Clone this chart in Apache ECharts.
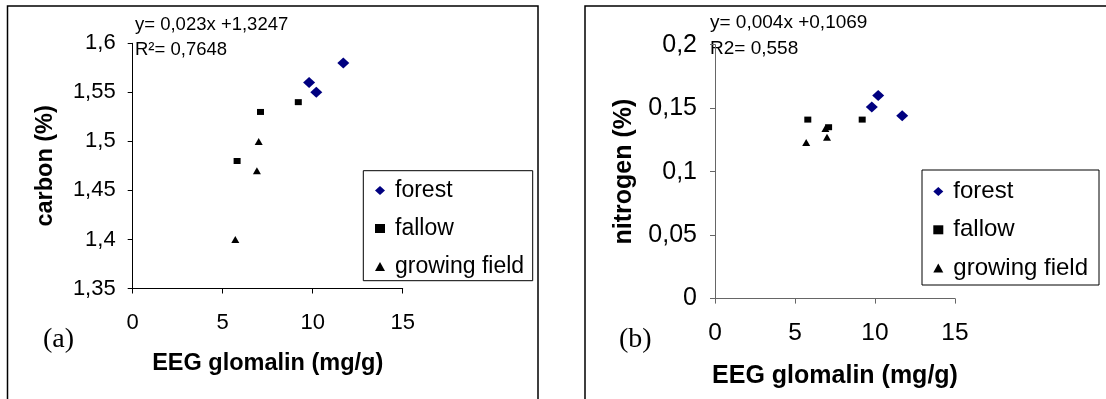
<!DOCTYPE html>
<html>
<head>
<meta charset="utf-8">
<script src="https://cdn.jsdelivr.net/npm/echarts@6/dist/echarts.min.js"></script>
<style>
html,body{margin:0;padding:0;background:#fff;}
#c{width:1106px;height:399px;}
</style>
</head>
<body>
<div id="c"></div>
<script>
// ---- data ----
const seriesNames = ['forest', 'fallow', 'growing field'];
const forestGlomalin = [9.8, 10.2, 11.7];
const forestCarbon = [1.56, 1.55, 1.58];
const forestNitrogen = [0.151, 0.160, 0.144];
const fallowGlomalin = [5.8, 7.1, 9.2];
const fallowCarbon = [1.48, 1.53, 1.54];
const fallowNitrogen = [0.141, 0.135, 0.141];
const fieldGlomalin = [5.7, 6.9, 7.0];
const fieldCarbon = [1.40, 1.47, 1.50];
const fieldNitrogen = [0.123, 0.134, 0.127];
const xTicks = [0, 5, 10, 15];
const carbonTicks = [1.35, 1.4, 1.45, 1.5, 1.55, 1.6];
const nitrogenTicks = [0, 0.05, 0.1, 0.15, 0.2];
const carbonEquation = 'y= 0,023x +1,3247';
const carbonR2 = 'R\u00B2= 0,7648';
const nitrogenEquation = 'y= 0,004x +0,1069';
const nitrogenR2 = 'R2= 0,558';
const xTitle = 'EEG glomalin (mg/g)';
const carbonTitle = 'carbon (%)';
const nitrogenTitle = 'nitrogen (%)';

const pairs = (xs, ys) => xs.map((x, i) => [x, ys[i]]);
const comma = v => String(Math.round(v * 1000) / 1000).replace('.', ',');
const FONT = '"Liberation Sans", Arial, sans-serif';

function xAxisCfg(gi, color, fs, titleFs, gap, margin) {
  return {
    type: 'value', gridIndex: gi,
    min: xTicks[0], max: xTicks[xTicks.length - 1], interval: xTicks[1] - xTicks[0],
    axisLine: {lineStyle: {color: color, width: 1}},
    axisTick: {show: true, length: 5, lineStyle: {color: color}},
    splitLine: {show: false},
    axisLabel: {color: '#000', fontSize: fs, fontFamily: FONT, margin: margin},
    name: xTitle, nameLocation: 'middle', nameGap: gap,
    nameTextStyle: {color: '#000', fontSize: titleFs, fontWeight: 'bold', fontFamily: FONT}
  };
}
function yAxisCfg(gi, ticks, title, color, fs, titleFs, gap, margin) {
  return {
    type: 'value', gridIndex: gi,
    min: ticks[0], max: ticks[ticks.length - 1], interval: 0.05,
    axisLine: {show: true, lineStyle: {color: color, width: 1}},
    axisTick: {show: true, length: 5, lineStyle: {color: color}},
    splitLine: {show: false},
    axisLabel: {color: '#000', fontSize: fs, fontFamily: FONT, margin: margin, formatter: comma},
    name: title, nameLocation: 'middle', nameGap: gap,
    nameTextStyle: {color: '#000', fontSize: titleFs, fontWeight: 'bold', fontFamily: FONT}
  };
}
function sc(name, xi, yi, data, symbol, size, color) {
  return {
    type: 'scatter', name: name, xAxisIndex: xi, yAxisIndex: yi,
    data: data, symbol: symbol, symbolSize: size,
    itemStyle: {color: color, opacity: 1}, silent: true
  };
}
function legendCfg(gi, left, top, fs, gap) {
  return {
    show: true, orient: 'vertical', left: left, top: top, padding: 0,
    itemWidth: 10, itemHeight: 9, itemGap: gap,
    data: [
      {name: seriesNames[0], icon: 'diamond'},
      {name: seriesNames[1], icon: 'rect'},
      {name: seriesNames[2], icon: 'triangle'}
    ],
    textStyle: {color: '#000', fontSize: fs, fontFamily: FONT, lineHeight: fs + 1, padding: [0, 0, 0, 5]},
    selectedMode: false
  };
}

const chart = echarts.init(document.getElementById('c'), null, {renderer: 'canvas'});
chart.setOption({
  animation: false,
  backgroundColor: '#fff',
  grid: [
    {left: 132.7, top: 43.3, width: 270, height: 245.2},
    {left: 715, top: 44.7, width: 240, height: 253.9}
  ],
  xAxis: [
    xAxisCfg(0, '#000', 22, 23.5, 63, 23),
    xAxisCfg(1, '#666', 24.5, 25, 65.5, 22)
  ],
  yAxis: [
    yAxisCfg(0, carbonTicks, carbonTitle, '#000', 22, 23.5, 75, 17),
    yAxisCfg(1, nitrogenTicks, nitrogenTitle, '#666', 25, 25, 78, 18)
  ],
  legend: [
    legendCfg(0, 375, 178.5, 23, 14),
    Object.assign(legendCfg(1, 933.3, 179, 24, 13.3), {})
  ],
  series: [
    sc(seriesNames[0], 0, 0, pairs(forestGlomalin, forestCarbon), 'diamond', [12, 11], '#000080'),
    sc(seriesNames[1], 0, 0, pairs(fallowGlomalin, fallowCarbon), 'rect', [7, 6], '#000'),
    sc(seriesNames[2], 0, 0, pairs(fieldGlomalin, fieldCarbon), 'triangle', [8, 7], '#000'),
    sc(seriesNames[0], 1, 1, pairs(forestGlomalin, forestNitrogen), 'diamond', [12, 11], '#000080'),
    sc(seriesNames[1], 1, 1, pairs(fallowGlomalin, fallowNitrogen), 'rect', [7, 6], '#000'),
    sc(seriesNames[2], 1, 1, pairs(fieldGlomalin, fieldNitrogen), 'triangle', [8, 7], '#000')
  ],
  graphic: [
    {type: 'rect', shape: {x: 7.5, y: 6, width: 530.5, height: 420}, style: {fill: 'none', stroke: '#000', lineWidth: 1.5}, z: -1},
    {type: 'rect', shape: {x: 585, y: 6, width: 540, height: 420}, style: {fill: 'none', stroke: '#000', lineWidth: 1.5}, z: -1},
    {type: 'rect', shape: {x: 363.3, y: 170.7, width: 169.4, height: 110}, style: {fill: 'none', stroke: '#000', lineWidth: 1}},
    {type: 'rect', shape: {x: 922, y: 170, width: 177, height: 115}, style: {fill: 'none', stroke: '#000', lineWidth: 1}},
    {type: 'text', left: 135, top: 15, style: {text: carbonEquation, font: '18.5px ' + FONT, fill: '#000'}},
    {type: 'text', left: 135, top: 40.5, style: {text: carbonR2, font: '18.5px ' + FONT, fill: '#000'}},
    {type: 'text', left: 710, top: 13, style: {text: nitrogenEquation, font: '19px ' + FONT, fill: '#000'}},
    {type: 'text', left: 710, top: 39, style: {text: nitrogenR2, font: '19px ' + FONT, fill: '#000'}},
    {type: 'text', left: 43, top: 326, style: {text: '(a)', font: '28px "Liberation Serif", "Times New Roman", serif', fill: '#000'}},
    {type: 'text', left: 619, top: 326, style: {text: '(b)', font: '28px "Liberation Serif", "Times New Roman", serif', fill: '#000'}}
  ]
});
</script>
</body>
</html>
